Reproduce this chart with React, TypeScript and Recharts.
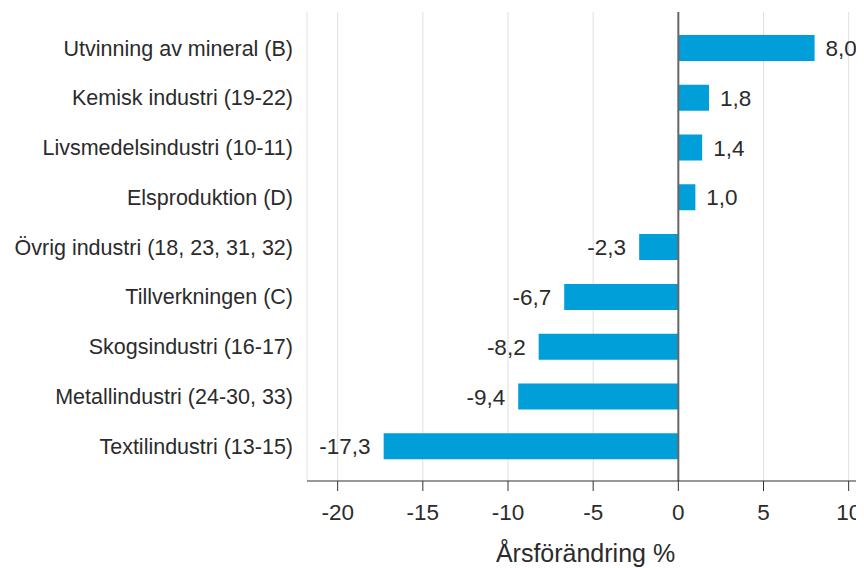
import { Bar, BarChart, CartesianGrid, LabelList, ReferenceLine, XAxis, YAxis } from "recharts";

const categories = [
  "Utvinning av mineral (B)",
  "Kemisk industri (19-22)",
  "Livsmedelsindustri (10-11)",
  "Elsproduktion (D)",
  "Övrig industri (18, 23, 31, 32)",
  "Tillverkningen (C)",
  "Skogsindustri (16-17)",
  "Metallindustri (24-30, 33)",
  "Textilindustri (13-15)",
];

const changes = [8.0, 1.8, 1.4, 1.0, -2.3, -6.7, -8.2, -9.4, -17.3];

const xTicks = [-20, -15, -10, -5, 0, 5, 10];

const data = categories.map((name, i) => ({ name, value: changes[i] }));

const FONT = "'Liberation Sans', Arial, sans-serif";
const TEXT = "#2b2b2b";

function ValueLabel(props: any) {
  const { x, y, width, height, value } = props;
  const end = Number(x) + Number(width);
  const positive = value >= 0;
  return (
    <text
      x={positive ? end + 11 : end - 13}
      y={Number(y) + Number(height) / 2}
      dy="0.36em"
      textAnchor={positive ? "start" : "end"}
      fontSize={22.5}
      fontFamily={FONT}
      fill={TEXT}
    >
      {value.toFixed(1).replace(".", ",")}
    </text>
  );
}

export default function App() {
  return (
    <BarChart
      width={856}
      height={560}
      data={data}
      layout="vertical"
      margin={{ top: 4, right: 0, bottom: 0, left: 0 }}
      style={{ fontFamily: FONT }}
    >
      <CartesianGrid horizontal={false} stroke="#e0e0e0" />
      <XAxis
        type="number"
        domain={[-21.8, 10.9]}
        allowDataOverflow
        ticks={xTicks}
        tickSize={10}
        tickMargin={13}
        height={87}
        stroke="#333"
        tick={{ fontSize: 22.5, fill: TEXT, fontFamily: FONT }}
        label={{ value: "Årsförändring %", position: "insideBottom", offset: 6, fontSize: 25, fill: TEXT, fontFamily: FONT }}
      />
      <YAxis
        type="category"
        dataKey="name"
        width={299}
        axisLine={false}
        tickLine={false}
        tickSize={0}
        tickMargin={14}
        padding={{ top: 11, bottom: 10 }}
        interval={0}
        tick={{ fontSize: 21.5, fill: TEXT, fontFamily: FONT }}
      />
      <Bar dataKey="value" fill="#009fda" barSize={26} isAnimationActive={false}>
        <LabelList dataKey="value" content={ValueLabel} />
      </Bar>
      <ReferenceLine x={0} stroke="#666" strokeWidth={2} />
    </BarChart>
  );
}
